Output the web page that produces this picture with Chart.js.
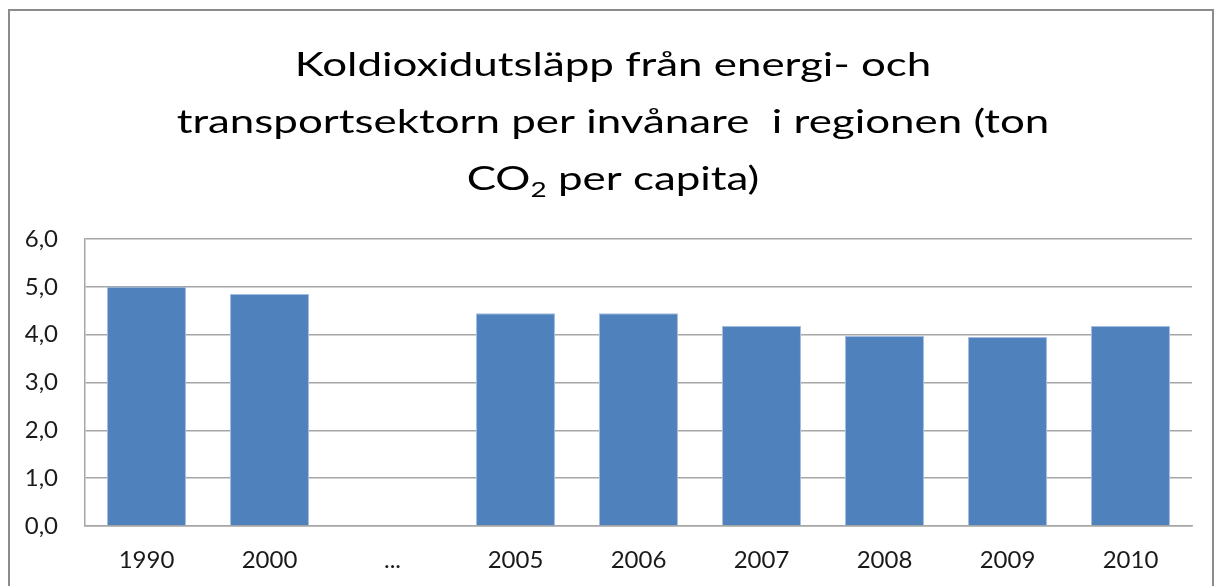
<!DOCTYPE html>
<html>
<head>
<meta charset="utf-8">
<script src="https://cdn.jsdelivr.net/npm/chart.js@4.4.0/dist/chart.umd.min.js"></script>
<style>
    html, body { margin: 0; padding: 0; background: #fff; overflow: hidden; }
    #frame {
        position: absolute; left: 8px; top: 9px;
        width: 1206px; height: 640px;
        border: 2px solid #8c8c8c; box-sizing: border-box;
    }
    #wrap { position: absolute; left: 0; top: 0; width: 1217px; height: 586px; }
</style>
</head>
<body>
<div id="frame"></div>
<div id="wrap"><canvas id="chart"></canvas></div>
<script>
// Data
const years = ["1990", "2000", "...", "2005", "2006", "2007", "2008", "2009", "2010"];
const co2PerCapita = [5.0, 4.85, null, 4.45, 4.45, 4.18, 3.97, 3.95, 4.18];
const yTicks = [0, 1, 2, 3, 4, 5, 6];

// Title, split in parts so the "2" of CO2 can be drawn as a subscript
const titleLines = [
    [{ text: "Koldioxidutsläpp från energi- och" }],
    [{ text: "transportsektorn per invånare  i regionen (ton" }],
    [{ text: "CO" }, { text: "2", sub: true }, { text: " per capita)" }],
];

const fontFamily = "Lato, 'Open Sans', sans-serif";
const gridColor = "#a6a6a6";

// The original title is drawn horizontally stretched
const titleStyle = {
    size: 33,
    stretch: 1.33,
    centerX: 613,
    firstBaseline: 76,
    lineGap: 57,
    subScale: 0.65,
    subShift: 7,
};

const stretchedTitle = {
    id: "stretchedTitle",
    afterDraw(chart) {
        const c = chart.ctx;
        const s = titleStyle;
        c.save();
        c.fillStyle = "#000";
        c.textBaseline = "alphabetic";
        c.textAlign = "left";
        titleLines.forEach((parts, i) => {
            const fonts = parts.map(
                (p) => `${p.sub ? Math.round(s.size * s.subScale) : s.size}px ${fontFamily}`
            );
            const widths = parts.map((p, j) => {
                c.font = fonts[j];
                return c.measureText(p.text).width * s.stretch;
            });
            const total = widths.reduce((a, b) => a + b, 0);
            let x = s.centerX - total / 2;
            const y = s.firstBaseline + i * s.lineGap;
            parts.forEach((p, j) => {
                c.font = fonts[j];
                c.save();
                c.translate(x, y + (p.sub ? s.subShift : 0));
                c.scale(s.stretch, 1);
                c.fillText(p.text, 0, 0);
                c.restore();
                x += widths[j];
            });
        });
        c.restore();
    },
};

const ctx = document.getElementById("chart");

new Chart(ctx, {
    type: "bar",
    data: {
        labels: years,
        datasets: [
            {
                data: co2PerCapita,
                backgroundColor: "#4f81bd",
                borderColor: "#a3bce0",
                borderWidth: 1,
                borderSkipped: "bottom",
                categoryPercentage: 1,
                barPercentage: 0.642,
            },
        ],
    },
    options: {
        responsive: true,
        maintainAspectRatio: false,
        animation: false,
        layout: {
            padding: { left: 0, right: 25, top: 239, bottom: 0 },
        },
        scales: {
            x: {
                grid: { display: false, drawTicks: false },
                border: { color: gridColor, width: 1.5 },
                ticks: {
                    color: "#1a1a1a",
                    font: { family: fontFamily, size: 24 },
                    padding: 20,
                },
                afterFit: (axis) => {
                    axis.height = 60;
                },
            },
            y: {
                min: 0,
                max: 6,
                afterBuildTicks: (axis) => {
                    axis.ticks = yTicks.map((v) => ({ value: v }));
                },
                grid: { color: gridColor, lineWidth: 1.5, drawTicks: false },
                border: { color: gridColor, width: 1.5 },
                ticks: {
                    color: "#1a1a1a",
                    font: { family: fontFamily, size: 24 },
                    padding: 27,
                    callback: (v) => v.toFixed(1).replace(".", ","),
                },
                afterFit: (axis) => {
                    axis.width = 85;
                },
            },
        },
        plugins: {
            legend: { display: false },
            tooltip: { enabled: false },
            title: { display: false },
        },
    },
    plugins: [stretchedTitle],
});
</script>
</body>
</html>
